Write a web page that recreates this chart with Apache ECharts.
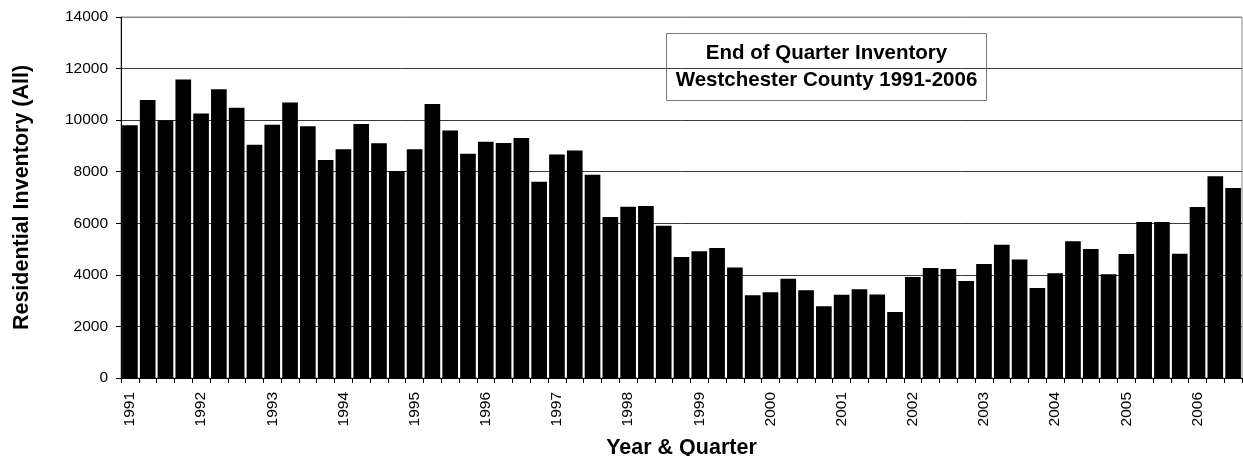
<!DOCTYPE html>
<html>
<head>
<meta charset="utf-8">
<title>End of Quarter Inventory - Westchester County 1991-2006</title>
<script src="https://cdn.jsdelivr.net/npm/echarts@6/dist/echarts.min.js"></script>
<style>
  html, body { margin: 0; padding: 0; background: #fff; }
  #chart { width: 1243px; height: 456px; }
</style>
</head>
<body>
<div id="chart"></div>
<script>
// Quarter labels, 1991 Q1 through 2006 Q3
const quarters = [
  '1991 Q1','1991 Q2','1991 Q3','1991 Q4',
  '1992 Q1','1992 Q2','1992 Q3','1992 Q4',
  '1993 Q1','1993 Q2','1993 Q3','1993 Q4',
  '1994 Q1','1994 Q2','1994 Q3','1994 Q4',
  '1995 Q1','1995 Q2','1995 Q3','1995 Q4',
  '1996 Q1','1996 Q2','1996 Q3','1996 Q4',
  '1997 Q1','1997 Q2','1997 Q3','1997 Q4',
  '1998 Q1','1998 Q2','1998 Q3','1998 Q4',
  '1999 Q1','1999 Q2','1999 Q3','1999 Q4',
  '2000 Q1','2000 Q2','2000 Q3','2000 Q4',
  '2001 Q1','2001 Q2','2001 Q3','2001 Q4',
  '2002 Q1','2002 Q2','2002 Q3','2002 Q4',
  '2003 Q1','2003 Q2','2003 Q3','2003 Q4',
  '2004 Q1','2004 Q2','2004 Q3','2004 Q4',
  '2005 Q1','2005 Q2','2005 Q3','2005 Q4',
  '2006 Q1','2006 Q2','2006 Q3'
];

// End-of-quarter residential inventory (all types)
const inventory = [
  9800, 10780, 10000, 11580,
  10260, 11200, 10480, 9050,
  9820, 10680, 9760, 8450,
  8870, 9850, 9100, 8030,
  8870, 10630, 9600, 8700,
  9160, 9110, 9310, 7610,
  8670, 8820, 7880, 6240,
  6640, 6670, 5900, 4690,
  4920, 5040, 4290, 3210,
  3330, 3850, 3400, 2780,
  3230, 3440, 3240, 2560,
  3920, 4270, 4230, 3760,
  4420, 5170, 4600, 3490,
  4060, 5300, 5000, 4020,
  4810, 6050, 6050, 4820,
  6630, 7820, 7370
];

const yTicks = [0, 2000, 4000, 6000, 8000, 10000, 12000, 14000];
const titleLines = ['End of Quarter Inventory', 'Westchester County 1991-2006'];
const yAxisTitle = 'Residential Inventory (All)';
const xAxisTitle = 'Year & Quarter';

const FONT = '"Liberation Sans", Arial, Helvetica, sans-serif';

const chart = echarts.init(document.getElementById('chart'), null, { renderer: 'canvas' });

chart.setOption({
  animation: false,
  backgroundColor: '#ffffff',
  grid: {
    left: 121, right: 1, top: 17, bottom: 78,
    outerBoundsMode: 'none',
    containLabel: false,
    show: true,
    borderColor: '#8a8a8a',
    borderWidth: 1,
    backgroundColor: 'transparent'
  },
  xAxis: {
    type: 'category',
    data: quarters,
    boundaryGap: true,
    name: xAxisTitle,
    nameLocation: 'middle',
    nameGap: 59,
    nameTextStyle: { fontFamily: FONT, fontWeight: 'bold', fontSize: 21.5, color: '#000' },
    axisLine: { show: true, lineStyle: { color: '#000', width: 1 } },
    axisTick: { show: true, interval: 0, length: 5, lineStyle: { color: '#000' } },
    axisLabel: {
      interval: 3,
      rotate: 90,
      margin: 14,
      fontFamily: FONT,
      fontSize: 15.5,
      color: '#000',
      formatter: v => v.slice(0, 4)
    },
    splitLine: { show: false }
  },
  yAxis: {
    type: 'value',
    min: yTicks[0],
    max: yTicks[yTicks.length - 1],
    interval: yTicks[1] - yTicks[0],
    name: yAxisTitle,
    nameLocation: 'middle',
    nameGap: 88,
    nameTextStyle: { fontFamily: FONT, fontWeight: 'bold', fontSize: 21.5, color: '#000' },
    axisLine: { show: true, lineStyle: { color: '#000', width: 1 } },
    axisTick: { show: true, length: 5, lineStyle: { color: '#000' } },
    axisLabel: {
      margin: 13,
      fontFamily: FONT,
      fontSize: 15.5,
      color: '#000',
      formatter: v => String(v)
    },
    splitLine: {
      show: true,
      lineStyle: {
        color: ['#000', '#3a3a3a', '#3a3a3a', '#3a3a3a', '#3a3a3a', '#3a3a3a', '#3a3a3a', '#8a8a8a'],
        width: 1
      }
    }
  },
  series: [{
    type: 'bar',
    data: inventory,
    barCategoryGap: '12%',
    itemStyle: { color: '#000', borderColor: '#000', borderWidth: 0 },
    z: 2
  }],
  graphic: [{
    type: 'group',
    z: 100,
    children: [{
      type: 'rect',
      shape: { x: 666.5, y: 33.5, width: 320, height: 67 },
      style: { fill: '#fff', stroke: '#7a7a7a', lineWidth: 1 }
    }, {
      type: 'text',
      x: 826.5,
      y: 67,
      style: {
        text: titleLines.join('\n'),
        align: 'center',
        verticalAlign: 'middle',
        fontFamily: FONT,
        fontWeight: 'bold',
        fontSize: 20.5,
        lineHeight: 27,
        fill: '#000'
      }
    }]
  }]
});
</script>
</body>
</html>
